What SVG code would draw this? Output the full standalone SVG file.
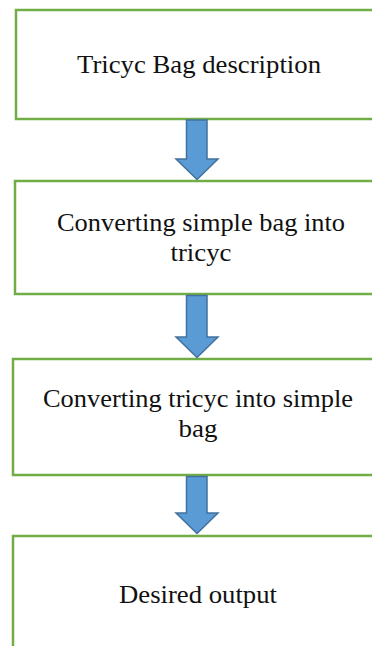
<svg xmlns="http://www.w3.org/2000/svg" width="372" height="646" viewBox="0 0 372 646">
<style>
.box{fill:#fff;stroke:#70AD47;stroke-width:2.5}
.lbl{font-family:"Liberation Serif","Times New Roman",serif;font-size:25.5px;fill:#111;text-anchor:middle}
.arr{fill:#5B9BD5;stroke:#41719C;stroke-width:1.5;stroke-linejoin:miter}
</style>
<rect width="372" height="646" fill="#fff"/>
<g id="node1">
<rect class="box" x="16" y="10" width="380" height="109"/>
<text class="lbl" x="199" y="73" textLength="244" lengthAdjust="spacingAndGlyphs">Tricyc Bag description</text>
</g>
<g id="node2">
<rect class="box" x="15" y="181" width="380" height="113"/>
<text class="lbl" x="201" y="231" textLength="288" lengthAdjust="spacingAndGlyphs">Converting simple bag into</text>
<text class="lbl" x="201" y="261" textLength="61" lengthAdjust="spacingAndGlyphs">tricyc</text>
</g>
<g id="node3">
<rect class="box" x="13" y="359" width="380" height="116"/>
<text class="lbl" x="198" y="407" textLength="310" lengthAdjust="spacingAndGlyphs">Converting tricyc into simple</text>
<text class="lbl" x="198" y="437" textLength="39" lengthAdjust="spacingAndGlyphs">bag</text>
</g>
<g id="node4">
<rect class="box" x="13" y="536" width="380" height="130"/>
<text class="lbl" x="198" y="603" textLength="158" lengthAdjust="spacingAndGlyphs">Desired output</text>
</g>
<g id="connectors">
<path class="arr" d="M186.5 120 H207 V159 H218 L197 179.5 L176 159 H186.5 Z"/>
<path class="arr" d="M186.5 295.5 H207 V337 H218 L197 357.5 L176 337 H186.5 Z"/>
<path class="arr" d="M186.5 476.5 H207 V513 H218 L197 533.5 L176 513 H186.5 Z"/>
</g>
</svg>
